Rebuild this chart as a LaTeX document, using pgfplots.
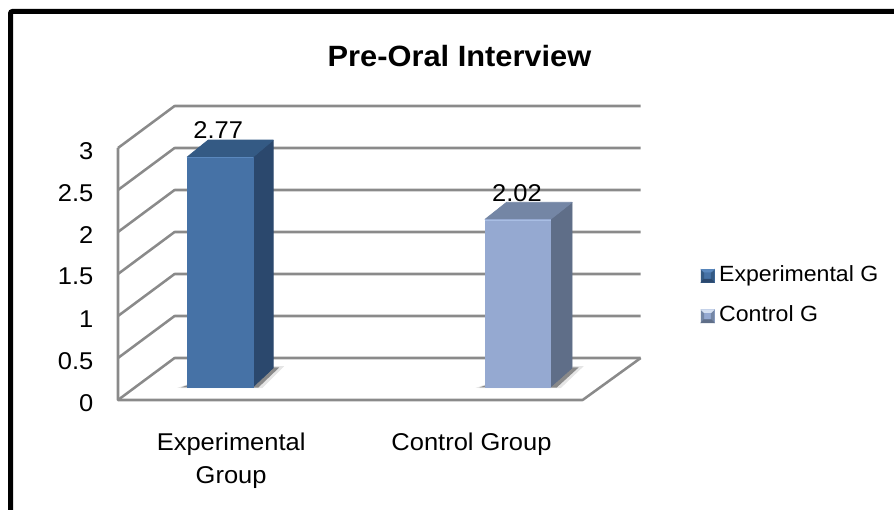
\documentclass[border=0pt]{standalone}
\usepackage{fontspec}
\setmainfont[FakeStretch=1.05]{Liberation Sans}
\usepackage{pgfplots}
\pgfplotsset{compat=1.18}

% Colours of the wall lines and the two bar series
\definecolor{wall}{HTML}{8A8A8A}
\definecolor{expFront}{HTML}{4672A6}
\definecolor{expSide}{HTML}{2B486D}
\definecolor{expTop}{HTML}{345A84}
\definecolor{expLight}{HTML}{5A88BE}
\definecolor{ctlFront}{HTML}{95A9D1}
\definecolor{ctlSide}{HTML}{5F6E88}
\definecolor{ctlTop}{HTML}{7486A5}
\definecolor{ctlLight}{HTML}{A9BEE4}

% Bevelled square legend key: main, dark, mid and light tones
\newcommand{\keyswatch}[4]{%
  \fill[#1] (0pt,-4.9pt) rectangle (9.8pt,4.9pt);
  \fill[#3] (0pt,-4.9pt) -- (2.2pt,-2.5pt) -- (2.2pt,2.8pt) -- (0pt,4.9pt) -- cycle;
  \fill[#3] (9.8pt,-4.9pt) -- (7.6pt,-2.5pt) -- (7.6pt,2.8pt) -- (9.8pt,4.9pt) -- cycle;
  \fill[#2] (0pt,-4.9pt) -- (9.8pt,-4.9pt) -- (7.6pt,-2.5pt) -- (2.2pt,-2.5pt) -- cycle;
  \fill[#4] (0pt,4.9pt) -- (9.8pt,4.9pt) -- (7.6pt,2.8pt) -- (2.2pt,2.8pt) -- cycle;
}

\newcommand{\chartfont}{\fontsize{18.2pt}{22pt}\selectfont}
\newcommand{\keyfont}{\fontsize{16.5pt}{20pt}\selectfont}

\begin{document}
\begin{tikzpicture}
\path[use as bounding box] (0pt,0pt) rectangle (670.5pt,382.5pt);
% Frame running off the right and lower edges
\draw[black,line width=3.75pt,rounded corners=1.5pt]
  (7.9pt,0pt) -- (7.9pt,373.9pt) -- (670.5pt,373.9pt);

% Value axis, floor and back wall (x in chart columns, y in values)
\begin{axis}[
  at={(88.5pt,82.5pt)}, anchor=south west,
  scale only axis, width=348pt, height=189pt,
  xmin=118, xmax=582, ymin=0, ymax=3,
  clip=false,
  axis line style={draw=none},
  tick style={draw=none},
  ytick={0,0.5,1,1.5,2,2.5,3},
  yticklabels={0,0.5,1,1.5,2,2.5,3},
  yticklabel style={font=\chartfont, anchor=east, xshift=-15pt, yshift=-2pt},
  xtick={231,471},
  xticklabels={{Experimental\\[2.5pt]Group},{Control Group}},
  xticklabel style={font=\chartfont, align=center, anchor=north, yshift=-21.5pt},
  title={\bfseries Pre-Oral Interview},
  title style={font=\fontsize{22pt}{26pt}\selectfont, at={(0.735,1.334)}, anchor=center},
]
\pgfplotsinvokeforeach{0,0.5,1,1.5,2,2.5,3}{
  \addplot[wall,line width=1.9pt,line join=round,forget plot]
    coordinates {(118,#1) (174.5,#1+0.5) (640,#1+0.5)};
}
\addplot[wall,line width=1.9pt,line join=round,forget plot]
  coordinates {(118,3) (118,0) (582,0) (640,0.5)};
\end{axis}

% Bars (x in chart columns, y in values)
\begin{axis}[
  at={(88.5pt,92.25pt)}, anchor=south west,
  scale only axis, width=348pt, height=186.75pt,
  xmin=118, xmax=582, ymin=0, ymax=3,
  clip=false,
  hide axis,
  legend style={draw=none, fill=none, at={(1.2543,0.485)}, anchor=north west,
    font=\keyfont, inner sep=0pt, outer sep=0pt, row sep=15.75pt,
    nodes={inner sep=0pt, anchor=west, text height=11.5pt, text depth=3pt},
    /tikz/column 1/.style={column sep=3.6pt}},
  legend cell align=left,
  /pgf/number format/.cd, fixed, fixed zerofill, precision=2, assume math mode=true,
]
% Soft shadows on the floor
\addplot[fill=black,draw=none,fill opacity=0.10,forget plot] coordinates
  {(177,-0.012) (187,0.03) (273,0.25) (284,0.25) (262,-0.015)} -- cycle;
\addplot[fill=black,draw=none,fill opacity=0.40,forget plot] coordinates
  {(181,-0.005) (187,0.02) (273,0.235) (279,0.235) (258,-0.008)} -- cycle;
\addplot[fill=black,draw=none,fill opacity=0.10,forget plot] coordinates
  {(475,-0.012) (485,0.03) (572,0.25) (583,0.25) (560,-0.015)} -- cycle;
\addplot[fill=black,draw=none,fill opacity=0.40,forget plot] coordinates
  {(479,-0.005) (485,0.02) (572,0.235) (578,0.235) (556,-0.008)} -- cycle;

% Experimental Group
\addplot[fill=expSide,draw=expSide,line width=0.5pt,line join=round,forget plot] coordinates
  {(252.8,0) (252.8,2.77) (273,2.975) (273,0.23)} -- cycle;
\addplot[fill=expTop,draw=expTop,line width=0.5pt,line join=round,forget plot] coordinates
  {(187,2.77) (208,2.975) (273,2.975) (252.8,2.77)} -- cycle;
\addplot[fill=expFront,draw=expFront,line width=0.4pt,forget plot] coordinates
  {(187,0) (187,2.77) (252.8,2.77) (252.8,0)} -- cycle;
\addplot[expLight,line width=0.7pt,forget plot] coordinates {(187,2.76) (252.8,2.76)};

% Control Group
\addplot[fill=ctlSide,draw=ctlSide,line width=0.5pt,line join=round,forget plot] coordinates
  {(550,0) (550,2.02) (571.5,2.225) (571.5,0.23)} -- cycle;
\addplot[fill=ctlTop,draw=ctlTop,line width=0.5pt,line join=round,forget plot] coordinates
  {(484.5,2.02) (506,2.225) (571.5,2.225) (550,2.02)} -- cycle;
\addplot[fill=ctlFront,draw=ctlFront,line width=0.4pt,forget plot] coordinates
  {(484.5,0) (484.5,2.02) (550,2.02) (550,0)} -- cycle;
\addplot[ctlLight,line width=0.7pt,forget plot] coordinates {(484.5,2.01) (550,2.01)};

% Value labels above the bars
\addplot[draw=none,forget plot,nodes near coords,
  nodes near coords style={font=\chartfont, anchor=center, yshift=20pt}]
  coordinates {(218,2.77)};
\addplot[draw=none,forget plot,nodes near coords,
  nodes near coords style={font=\chartfont, anchor=center, yshift=20pt}]
  coordinates {(516.5,2.02)};

% Legend keys
\addlegendimage{legend image code/.code={\keyswatch{expFront}{expSide}{expTop}{expLight}}}
\addlegendentry{Experimental G}
\addlegendimage{legend image code/.code={\keyswatch{ctlFront}{ctlSide}{ctlTop}{ctlLight!50!white}}}
\addlegendentry{Control G}
\end{axis}
\end{tikzpicture}
\end{document}
